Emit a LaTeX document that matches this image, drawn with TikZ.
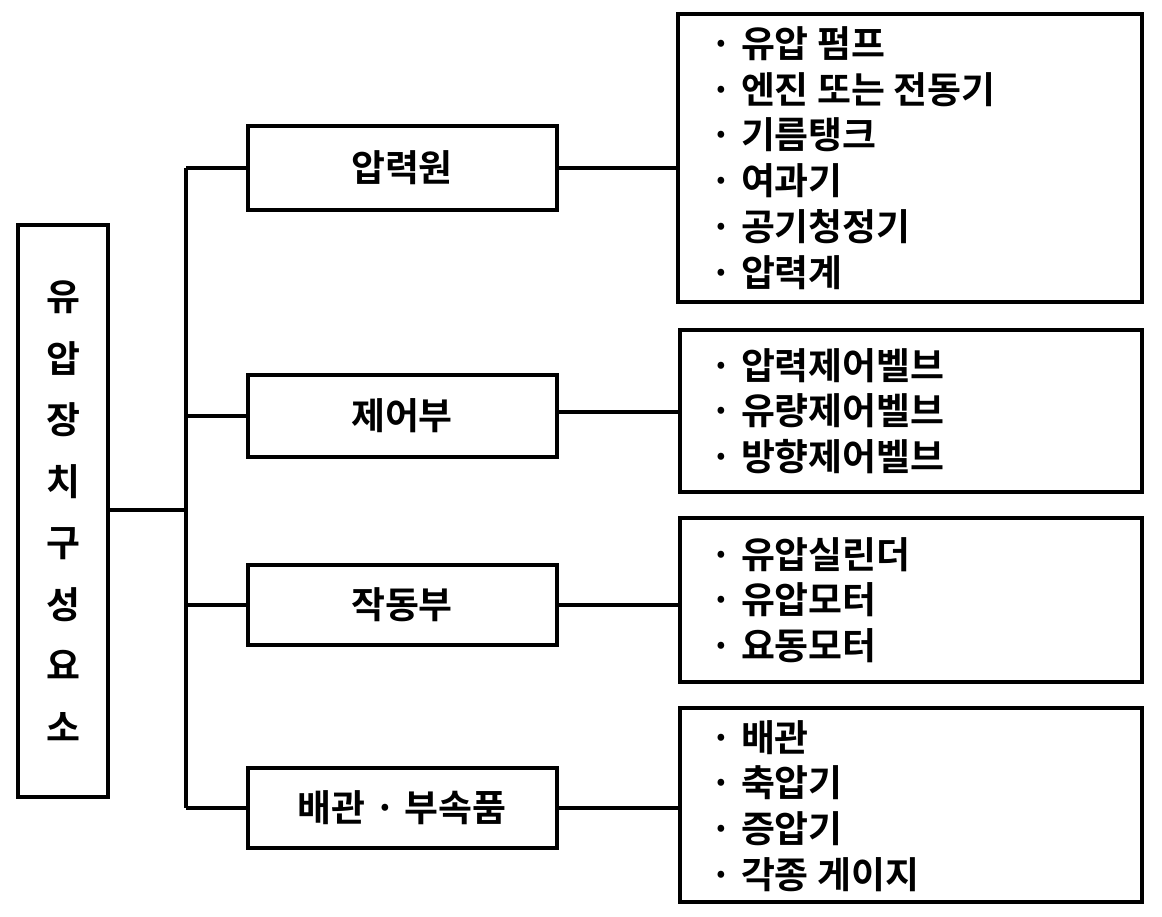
\documentclass[tikz,border=0pt]{standalone}
\usepackage{fontspec}
\setmainfont{Noto Sans CJK KR}[BoldFont={* Bold}]
\begin{document}
\begin{tikzpicture}[x=0.02cm,y=-0.02cm,line width=2.2pt,
  box/.style={draw,line width=2.2pt},
  lbl/.style={font=\fontsize{21}{21}\selectfont\bfseries},
  lst/.style={anchor=west,align=left,font=\fontsize{21}{26}\selectfont\bfseries}]
\useasboundingbox (0,0) rectangle (1162,916);
\draw[box] (18,225) rectangle (108,797);
\node[lbl,align=center,font=\fontsize{21}{35}\selectfont\bfseries] (root) at (63,511) {유\\압\\장\\치\\구\\성\\요\\소};
\coordinate (r) at (108,510);
\coordinate (t) at (186,510);
\draw (r) -- (t);
\draw (186,168) -- (186,808);
\foreach \n/\y/\h/\t in {a/168/42/압력원,b/416/41/제어부,c/605/40/작동부,d/808/40/배관 · 부속품}{
  \draw[box] (248,\y-\h) rectangle (557,\y+\h);
  \node[lbl] (\n) at (402,\y) {\t};
  \draw (186,\y) -- (248,\y);
}
\draw[box] (678,14) rectangle (1142,302);
\draw[box] (680,330) rectangle (1142,492);
\draw[box] (680,518) rectangle (1142,682);
\draw[box] (680,708) rectangle (1142,902);
\draw (557,168) -- (678,168);
\draw (557,412) -- (680,412);
\draw (557,605) -- (680,605);
\draw (557,808) -- (680,808);
\node[lst] (la) at (703,158) {· 유압 펌프\\· 엔진 또는 전동기\\· 기름탱크\\· 여과기\\· 공기청정기\\· 압력계};
\node[lst] (lb) at (703,411) {· 압력제어벨브\\· 유량제어벨브\\· 방향제어벨브};
\node[lst] (lc) at (703,600) {· 유압실린더\\· 유압모터\\· 요동모터};
\node[lst] (ld) at (703,806) {· 배관\\· 축압기\\· 증압기\\· 각종 게이지};
\end{tikzpicture}
\end{document}
